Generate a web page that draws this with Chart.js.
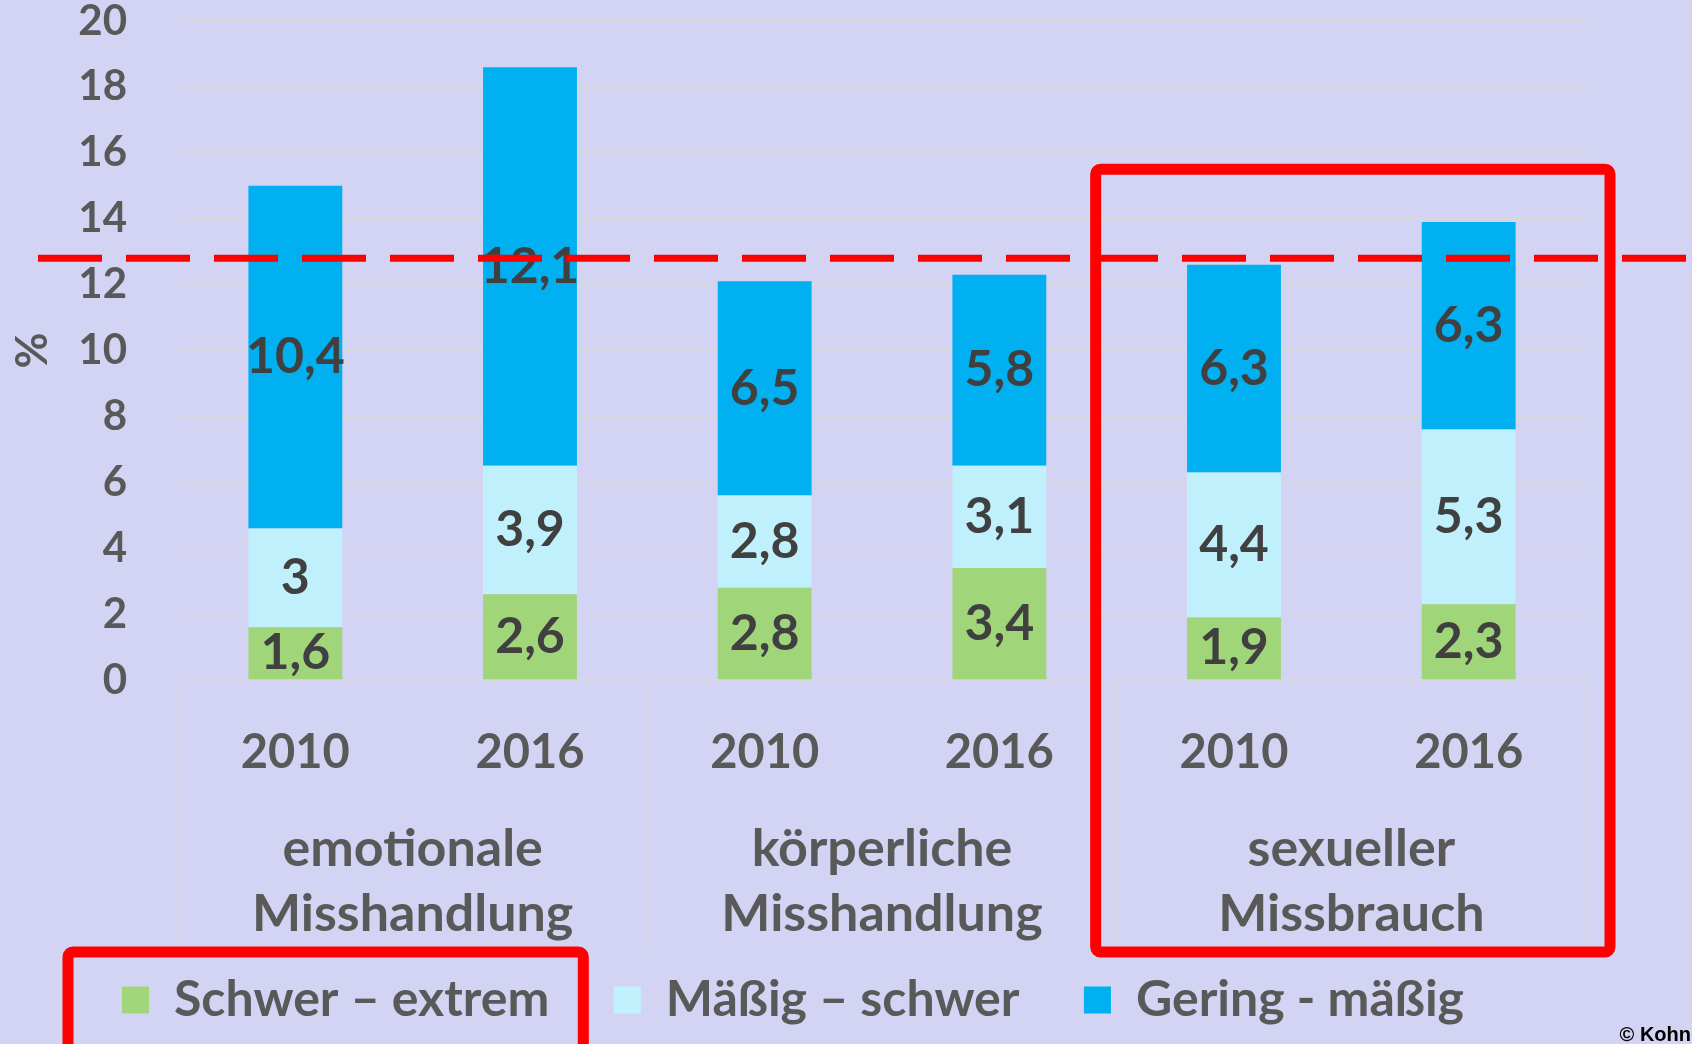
<!DOCTYPE html>
<html lang="de">
<head>
<meta charset="utf-8">
<title>Misshandlung und Missbrauch 2010 / 2016</title>
<script src="https://cdn.jsdelivr.net/npm/chart.js@4.4.1/dist/chart.umd.min.js"></script>
<style>
  html, body { margin: 0; padding: 0; background: #d3d3f3; }
  #wrap { width: 1692px; height: 1044px; position: relative; }
</style>
</head>
<body>
<div id="wrap"><canvas id="chart"></canvas></div>
<script>
// Data
const years = ['2010', '2016', '2010', '2016', '2010', '2016'];
const groups = [['emotionale', 'Misshandlung'], ['körperliche', 'Misshandlung'], ['sexueller', 'Missbrauch']];
const seriesNames = ['Schwer – extrem', 'Mäßig – schwer', 'Gering - mäßig'];
const schwerExtrem = [1.6, 2.6, 2.8, 3.4, 1.9, 2.3];
const maessigSchwer = [3, 3.9, 2.8, 3.1, 4.4, 5.3];
const geringMaessig = [10.4, 12.1, 6.5, 5.8, 6.3, 6.3];
const yTicks = [0, 2, 4, 6, 8, 10, 12, 14, 16, 18, 20];
const refLine = 12.8;
const highlightGroup = 2;
const highlightTop = 15.5;

const textColor = '#595959';
const valueColor = '#404040';
const gridColor = '#d9d9d9';
const red = '#ff0000';
const legendFont = { family: 'Lato', size: 50, weight: 'bold' };

// x pixel of every group border (left edge, between groups, right edge)
function groupEdges(x) {
  const edges = [x.left];
  for (let i = 2; i < years.length; i += 2) {
    edges.push((x.getPixelForValue(i - 1) + x.getPixelForValue(i)) / 2);
  }
  edges.push(x.right);
  return edges;
}

const decorations = {
  id: 'decorations',
  beforeDatasetsDraw(chart) {
    const { ctx, scales: { x, y, x2 } } = chart;
    const base = y.getPixelForValue(0);
    ctx.save();
    ctx.strokeStyle = gridColor;
    ctx.lineWidth = 1.5;
    groupEdges(x).forEach(px => {
      ctx.beginPath();
      ctx.moveTo(px, base);
      ctx.lineTo(px, x2.bottom - 3);
      ctx.stroke();
    });
    ctx.restore();
  },
  afterDatasetsDraw(chart) {
    const { ctx, chartArea, scales: { x, y, x2 } } = chart;
    ctx.save();

    // value labels in the middle of each segment
    ctx.font = 'bold 50px Lato';
    ctx.fillStyle = valueColor;
    ctx.textAlign = 'center';
    ctx.textBaseline = 'middle';
    chart.data.datasets.forEach((ds, di) => {
      chart.getDatasetMeta(di).data.forEach((bar, i) => {
        const p = bar.getCenterPoint();
        ctx.fillText(String(ds.data[i]).replace('.', ','), p.x, p.y);
      });
    });

    // dashed reference line
    const ry = y.getPixelForValue(refLine);
    ctx.strokeStyle = red;
    ctx.lineWidth = 7;
    ctx.setLineDash([64, 24]);
    ctx.beginPath();
    ctx.moveTo(chartArea.left - 140, ry);
    ctx.lineTo(chart.width, ry);
    ctx.stroke();
    ctx.setLineDash([]);

    // highlight boxes
    const edges = groupEdges(x);
    const boxBottom = x2.bottom + 4;
    ctx.lineWidth = 11;
    const left = edges[highlightGroup] - 21;
    const right = edges[highlightGroup + 1] + 24;
    const top = y.getPixelForValue(highlightTop);
    ctx.beginPath();
    ctx.roundRect(left, top, right - left, boxBottom - top, 5);
    ctx.stroke();

    const hb = chart.legend.legendHitBoxes[0];
    ctx.font = 'bold 50px Lato';
    const textW = ctx.measureText(seriesNames[0]).width;
    const lLeft = hb.left - 54;
    const lRight = hb.left + 27 + legendFont.size / 2 + textW + 34;
    ctx.beginPath();
    ctx.roundRect(lLeft, boxBottom, lRight - lLeft, chart.height + 20 - boxBottom, 5);
    ctx.stroke();

    // credit
    ctx.font = 'bold 20px "Liberation Sans"';
    ctx.fillStyle = '#000';
    ctx.textAlign = 'right';
    ctx.textBaseline = 'alphabetic';
    ctx.fillText('© Kohn', chart.width - 1, chart.height - 3);
    ctx.restore();
  }
};

new Chart(document.getElementById('chart'), {
  type: 'bar',
  data: {
    labels: years,
    datasets: [
      { label: seriesNames[0], data: schwerExtrem, backgroundColor: '#a0d57a' },
      { label: seriesNames[1], data: maessigSchwer, backgroundColor: '#c1f0fd' },
      { label: seriesNames[2], data: geringMaessig, backgroundColor: '#00b0f0' }
    ]
  },
  options: {
    responsive: true,
    maintainAspectRatio: false,
    animation: false,
    datasets: { bar: { categoryPercentage: 1, barPercentage: 0.4, borderWidth: 0 } },
    layout: { padding: { top: 0, right: 106, bottom: 9, left: 0 } },
    plugins: {
      tooltip: { enabled: false },
      legend: {
        position: 'bottom',
        labels: {
          color: textColor,
          font: legendFont,
          boxWidth: 27,
          boxHeight: 27,
          padding: 27,
          // wider gap between the legend entries
          generateLabels: chart => Chart.defaults.plugins.legend.labels.generateLabels(chart)
            .map((item, i, all) => ({ ...item, text: i < all.length - 1 ? item.text + '\u2003' : item.text }))
        }
      }
    },
    scales: {
      x: {
        stacked: true,
        weight: 0,
        grid: { display: false },
        border: { display: false },
        ticks: {
          color: textColor,
          font: { family: 'Lato', size: 47, weight: 'bold', lineHeight: 1.2 },
          padding: 37,
          autoSkip: false,
          maxRotation: 0
        },
        afterFit: s => { s.height = 100; }
      },
      x2: {
        type: 'category',
        labels: groups,
        position: 'bottom',
        offset: true,
        weight: 1,
        grid: { display: false },
        border: { display: false },
        ticks: {
          color: textColor,
          font: { family: 'Lato', size: 52, weight: 'bold', lineHeight: 1.25 },
          padding: 29,
          autoSkip: false,
          maxRotation: 0
        },
        afterFit: s => { s.height = 168; }
      },
      y: {
        stacked: true,
        min: 0,
        max: 20,
        afterBuildTicks: s => { s.ticks = yTicks.map(v => ({ value: v })); },
        grid: { color: gridColor, lineWidth: 1.5, drawTicks: true, tickLength: 51, tickColor: 'rgba(0,0,0,0)' },
        border: { display: false },
        ticks: {
          color: textColor,
          font: { family: 'Lato', size: 42, weight: 'bold', lineHeight: 1 },
          padding: 0
        },
        title: {
          display: true,
          text: '%',
          color: textColor,
          font: { family: 'Lato', size: 44, weight: 'bold', lineHeight: 1.2 },
          padding: { top: 6, bottom: 0 }
        },
        afterFit: s => { s.width = 178; }
      }
    }
  },
  plugins: [decorations]
});
</script>
</body>
</html>
